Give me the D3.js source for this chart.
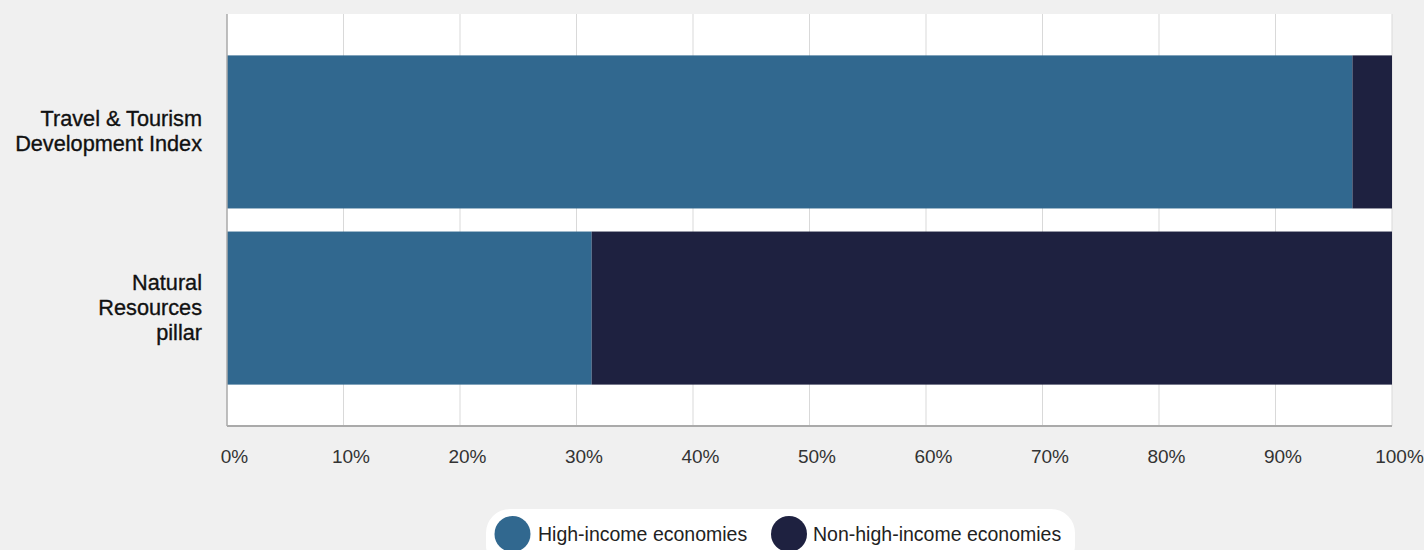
<!DOCTYPE html>
<html><head><meta charset="utf-8">
<script src="https://cdn.jsdelivr.net/npm/d3@7"></script>
<style>
html,body{margin:0;padding:0;background:#f0f0f0;}
svg{display:block;font-family:"Liberation Sans",Arial,sans-serif;}
</style></head>
<body>
<svg id="c" width="1424" height="550"></svg>
<script>
const categories = [["Travel & Tourism","Development Index"],["Natural","Resources","pillar"]];
const categoryKeys = ["TTDI","Natural Resources pillar"];
const seriesNames = ["High-income economies","Non-high-income economies"];
const highIncome = [96.6, 31.3];
const nonHighIncome = [3.4, 68.7];
const tickValues = [0,10,20,30,40,50,60,70,80,90,100];
const colors = ["#31688f","#1e2140"];

const svg = d3.select("#c");
const m = {left:227, right:1392, top:14, bottom:426};
const x = d3.scaleLinear().domain([0,100]).range([m.left,m.right]);
const y = d3.scaleBand().domain(categoryKeys).range([m.top,m.bottom]).paddingInner(0.131).paddingOuter(0.235);

svg.append("rect").attr("x",m.left).attr("y",m.top).attr("width",m.right-m.left).attr("height",m.bottom-m.top).attr("fill","#fff");

// gridlines
svg.append("g").selectAll("line").data(tickValues.slice(1)).join("line")
  .attr("x1",d=>x(d)).attr("x2",d=>x(d)).attr("y1",m.top).attr("y2",m.bottom)
  .attr("stroke","#d9d9d9").attr("stroke-width",1);

const data = categoryKeys.map((k,i)=>({key:k, vals:[highIncome[i], nonHighIncome[i]]}));
const stack = d3.stack().keys([0,1]).value((d,k)=>d.vals[k]);
const stacked = stack(data);

svg.append("g").selectAll("g").data(stacked).join("g").attr("fill",(d,i)=>colors[i])
  .selectAll("rect").data(d=>d).join("rect")
  .attr("x",d=>x(d[0])).attr("width",d=>x(Math.min(100,d[1]))-x(d[0]))
  .attr("y",d=>y(d.data.key)).attr("height",y.bandwidth());

// axis lines
svg.append("line").attr("x1",m.left).attr("x2",m.left).attr("y1",m.top).attr("y2",m.bottom).attr("stroke","#aaa").attr("stroke-width",1.5);
svg.append("line").attr("x1",m.left).attr("x2",m.right).attr("y1",m.bottom).attr("y2",m.bottom).attr("stroke","#aaa").attr("stroke-width",2);

// x axis labels
const xAxis = d3.axisBottom(x).tickValues(tickValues).tickFormat(d=>d+"%").tickSize(0).tickPadding(0);
const gx = svg.append("g").attr("transform",`translate(7,${m.bottom+23.5})`).call(xAxis);
gx.select(".domain").remove();
gx.selectAll("text").attr("font-size",19).attr("fill","#333").attr("font-family","'Liberation Sans',Arial,sans-serif");

// y labels
const gy = svg.append("g");
categoryKeys.forEach((k,i)=>{
  const lines = categories[i];
  const cy = y(k)+y.bandwidth()/2;
  const lh = 25;
  const t = gy.append("text").attr("text-anchor","end").attr("font-size",21.7).attr("fill","#111")
    .attr("stroke","#111").attr("stroke-width",0.35)
    .attr("font-family","'Liberation Sans',Arial,sans-serif");
  lines.forEach((ln,j)=>{
    t.append("tspan").attr("x",202).attr("y",cy + (j-(lines.length-1)/2)*lh + 6.5).text(ln);
  });
});

// legend
const lg = svg.append("g");
lg.append("rect").attr("x",486).attr("y",509).attr("width",589).attr("height",60).attr("rx",24).attr("fill","#fff");
const items = [{cx:512.5, tx:538},{cx:789, tx:813}];
seriesNames.forEach((s,i)=>{
  lg.append("circle").attr("cx",items[i].cx).attr("cy",534).attr("r",18).attr("fill",colors[i]);
  lg.append("text").attr("x",items[i].tx).attr("y",541).attr("font-size",19.5).attr("fill","#222").text(s);
});
</script>
</body></html>
